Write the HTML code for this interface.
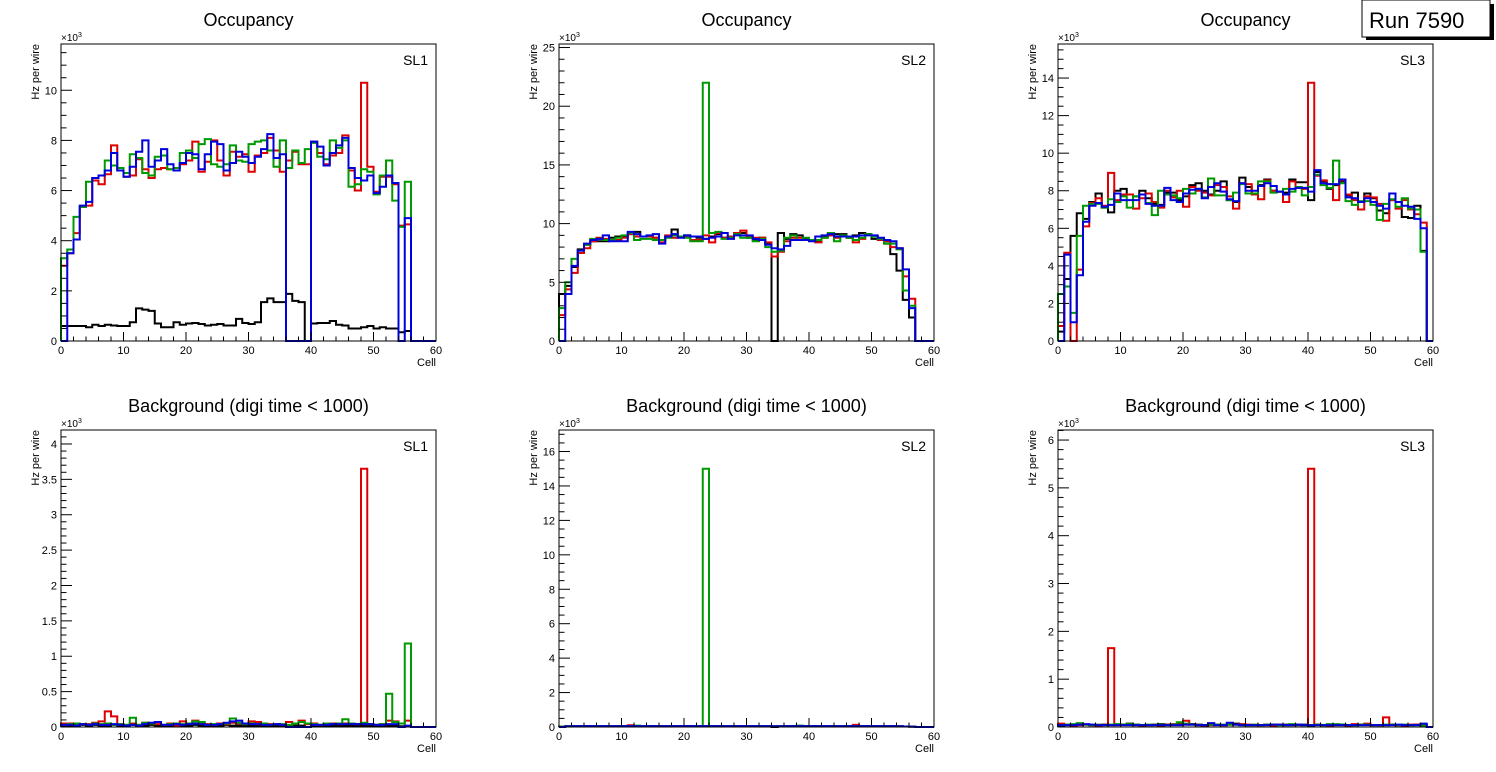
<!DOCTYPE html>
<html><head><meta charset="utf-8"><style>
html,body{margin:0;padding:0;background:#fff;}
svg{display:block;font-family:"Liberation Sans",sans-serif;}
</style></head><body>
<svg id="c" width="1496" height="772">
<g>
<rect x="1366" y="4" width="128" height="36" fill="#000"/>
<rect x="1362" y="0" width="128" height="37" fill="#fff" stroke="#000" stroke-width="1"/>
<text x="1369" y="28" font-size="22">Run 7590</text>
</g>
</svg>
<script>
const bins = 60;
const occSL1Black=[0.6,0.6,0.6,0.6,0.55,0.65,0.6,0.65,0.62,0.6,0.6,0.75,1.3,1.25,1.2,0.7,0.55,0.55,0.75,0.65,0.7,0.72,0.68,0.62,0.65,0.68,0.62,0.62,0.88,0.72,0.68,0.75,1.55,1.7,1.55,1.55,1.88,1.6,1.55,0,0.7,0.72,0.72,0.8,0.65,0.62,0.5,0.5,0.55,0.6,0.5,0.55,0.5,0.5,0.35,0.4];
const occSL1Red=[3.0,3.5,4.3,5.35,5.4,6.4,6.25,6.65,7.8,6.8,6.55,6.6,7.25,6.85,6.5,6.85,6.9,6.85,6.9,7.05,7.2,7.95,6.75,7.15,8.0,7.2,6.6,7.55,7.35,7.45,6.75,7.4,7.5,8.1,7.6,6.75,7.2,7.55,7.05,7.05,7.95,7.5,7.05,7.4,7.5,8.2,6.8,6.0,10.3,6.95,5.95,6.55,6.55,6.25,4.6,4.65];
const occSL1Green=[3.3,3.65,4.95,5.35,6.35,6.5,6.6,7.2,7.0,6.9,6.7,7.45,7.3,6.7,6.6,7.35,7.4,6.85,6.9,7.5,7.6,7.3,7.85,8.05,7.05,6.95,7.05,7.8,7.2,7.15,7.85,7.95,8.0,7.6,6.95,8.0,6.9,7.6,7.1,7.65,7.9,7.35,7.25,8.0,7.7,8.0,6.15,6.25,6.85,6.75,5.85,6.6,7.2,5.6,4.55,6.35];
const occSL1Blue=[0,3.5,4.05,5.4,5.55,6.5,6.6,6.8,7.5,6.8,6.55,6.95,7.55,8.0,6.95,7.2,7.65,7.05,6.8,7.1,7.5,7.45,6.85,7.45,7.95,7.85,6.8,7.1,7.55,7.35,7.1,7.35,7.65,8.25,7.3,7.45,0,0,0,0,7.95,7.75,7.0,7.5,7.8,8.1,6.9,6.5,6.4,6.6,5.9,6.15,6.6,6.3,0,4.9];

const occSL2Black=[4.0,4.7,6.3,7.8,8.2,8.5,8.5,8.5,8.8,8.9,8.9,9.1,9.3,8.9,8.9,8.8,8.6,8.9,9.5,8.9,9.0,8.9,8.8,8.7,8.9,9.1,8.8,8.8,9.1,9.2,8.8,8.6,8.8,8.3,0,9.2,8.7,9.1,9.0,8.7,8.6,8.5,8.9,9.0,9.1,9.1,8.8,9.0,9.2,9.1,8.7,8.7,8.3,7.4,6.0,3.5,2.0];
const occSL2Red=[2.2,4.4,5.8,7.5,7.9,8.5,8.8,8.7,8.6,8.6,8.8,9.1,8.9,8.9,8.9,8.8,8.4,9.0,8.8,8.9,8.9,8.6,8.6,9.0,8.4,9.2,8.8,8.9,9.2,9.4,8.9,8.8,8.8,8.4,7.2,7.6,8.5,8.8,8.8,8.6,8.6,8.4,8.8,9.0,8.8,8.9,8.8,8.4,8.7,9.1,8.9,8.6,8.5,8.0,7.9,5.5,3.6];
const occSL2Green=[2.8,5.0,7.0,7.7,8.2,8.7,8.7,8.6,8.6,8.8,9.0,9.2,8.6,8.7,8.7,8.6,8.6,8.8,9.0,8.9,8.8,8.5,8.5,22.0,9.2,9.3,8.7,8.8,9.1,8.8,8.8,8.5,8.7,8.0,7.6,7.7,8.8,9.0,8.6,8.8,8.6,8.6,8.8,9.2,8.5,9.0,8.8,8.6,8.8,9.1,8.9,8.7,8.3,8.3,7.8,4.3,3.0];
const occSL2Blue=[0,4.0,6.4,7.7,8.3,8.6,8.7,9.0,8.5,8.5,8.5,9.3,9.1,8.9,9.0,9.1,8.3,8.9,9.1,8.8,9.0,8.9,8.9,8.7,8.8,8.9,9.2,8.7,9.0,9.0,9.0,8.7,8.6,8.2,7.9,7.8,8.1,8.6,8.6,8.6,8.5,8.9,9.0,9.1,8.9,8.9,8.9,8.9,9.0,9.0,9.0,8.8,8.6,8.5,7.9,6.1,2.8];

const occSL3Black=[0.5,3.3,5.6,6.8,6.5,7.4,7.85,7.1,6.85,8.0,8.1,7.8,7.7,8.0,7.6,7.3,7.25,7.9,7.9,7.5,7.7,8.3,8.4,8.0,7.8,8.0,8.5,7.5,7.4,8.7,8.2,7.85,8.3,8.6,8.0,7.95,7.9,8.6,8.45,8.45,7.5,9.0,8.5,8.1,8.3,8.5,7.75,7.9,7.4,7.85,7.6,6.95,6.8,7.5,7.4,6.6,6.55,7.2,4.8];
const occSL3Red=[0.8,4.7,0,3.8,6.1,7.35,7.6,7.2,8.95,7.5,7.8,7.8,7.05,7.6,7.85,7.4,7.1,8.0,7.65,8.0,7.15,8.2,8.0,7.9,7.75,8.3,8.2,7.7,7.05,8.4,8.35,7.8,7.55,8.55,8.0,7.95,7.4,8.5,8.15,8.1,13.75,8.8,8.55,8.35,7.5,8.55,7.8,7.5,7.0,7.7,7.65,7.3,6.4,7.5,7.05,7.5,7.0,6.75,6.3];
const occSL3Green=[2.5,2.9,1.5,5.6,7.2,7.3,7.3,7.1,7.55,7.4,7.7,7.1,7.7,7.8,7.35,6.7,8.0,7.8,7.75,7.6,8.1,7.85,8.1,7.65,8.65,7.75,7.75,7.5,7.9,8.35,7.85,7.85,8.5,8.5,7.9,7.95,8.1,7.95,8.2,7.75,8.2,8.85,8.3,8.15,9.6,8.4,7.45,7.25,7.45,7.45,7.25,6.45,7.3,7.55,7.15,7.6,7.05,7.0,4.75];
const occSL3Blue=[0,4.6,1.0,3.5,6.35,7.2,7.35,7.15,7.25,7.85,7.5,7.5,7.5,7.8,7.3,7.2,7.2,8.15,7.5,7.4,7.85,8.05,8.1,7.6,8.2,8.4,7.95,7.55,7.45,8.4,8.0,8.0,8.25,8.4,8.25,7.95,7.8,8.1,8.15,8.15,7.95,9.1,8.4,8.35,8.35,8.6,7.65,7.6,7.4,7.6,7.4,7.2,7.05,7.85,7.4,7.2,7.15,6.5,6.0];

const bkgSL1Black=[0.02,0.02,0.02,0.03,0.02,0.03,0.02,0.02,0.03,0.02,0.02,0.03,0.02,0.02,0.03,0.02,0.02,0.02,0.03,0.02,0.02,0.03,0.02,0.02,0.02,0.02,0.03,0.02,0.02,0.02,0.02,0.02,0.02,0.02,0.02,0.02,0.02,0.02,0.02,0,0.02,0.02,0.02,0.02,0.02,0.02,0.02,0.02,0.02,0.02,0.02,0.02,0.02,0.02,0.01,0.01];
const bkgSL1Red=[0.05,0.05,0.03,0.04,0.04,0.06,0.08,0.22,0.15,0.04,0.03,0.05,0.03,0.06,0.05,0.04,0.03,0.05,0.02,0.08,0.05,0.09,0.05,0.04,0.03,0.05,0.04,0.06,0.05,0.04,0.08,0.07,0.05,0.04,0.04,0.03,0.07,0.05,0.09,0.04,0.05,0.03,0.04,0.05,0.04,0.05,0.05,0.04,3.65,0.04,0.03,0.04,0.09,0.08,0.05,0.09];
const bkgSL1Green=[0.03,0.04,0.05,0.04,0.03,0.05,0.04,0.05,0.03,0.04,0.03,0.13,0.03,0.06,0.05,0.07,0.03,0.04,0.05,0.04,0.05,0.08,0.07,0.03,0.04,0.04,0.05,0.12,0.06,0.04,0.05,0.04,0.05,0.03,0.04,0.04,0.03,0.05,0.07,0.05,0.04,0.03,0.05,0.04,0.05,0.11,0.05,0.04,0.06,0.04,0.03,0.04,0.47,0.07,0.05,1.18];
const bkgSL1Blue=[0.03,0.03,0.02,0.04,0.03,0.04,0.03,0.03,0.04,0.03,0.02,0.03,0.02,0.04,0.06,0.07,0.03,0.03,0.04,0.03,0.04,0.05,0.04,0.03,0.03,0.04,0.06,0.08,0.09,0.05,0.04,0.04,0.03,0.03,0.04,0.03,0,0,0,0,0.03,0.03,0.03,0.04,0.04,0.04,0.04,0.04,0.04,0.04,0.03,0.03,0.04,0.04,0,0.02];

const bkgSL2Black=[0.02,0.03,0.04,0.05,0.05,0.05,0.04,0.05,0.05,0.04,0.05,0.05,0.06,0.05,0.04,0.05,0.05,0.04,0.06,0.05,0.04,0.05,0.05,0.05,0.05,0.05,0.04,0.05,0.05,0.05,0.04,0.05,0.05,0.04,0,0.05,0.05,0.05,0.05,0.04,0.05,0.05,0.05,0.05,0.05,0.05,0.05,0.05,0.05,0.05,0.05,0.04,0.05,0.05,0.04,0.03,0.02];
const bkgSL2Red=[0.02,0.04,0.05,0.06,0.05,0.05,0.06,0.05,0.05,0.06,0.05,0.1,0.05,0.06,0.05,0.05,0.06,0.05,0.06,0.05,0.05,0.06,0.06,0.05,0.05,0.05,0.06,0.05,0.06,0.06,0.05,0.05,0.05,0.05,0.04,0.05,0.05,0.06,0.05,0.05,0.06,0.05,0.05,0.06,0.05,0.05,0.05,0.12,0.05,0.06,0.05,0.05,0.05,0.05,0.04,0.03,0.02];
const bkgSL2Green=[0.02,0.04,0.05,0.05,0.05,0.05,0.05,0.06,0.05,0.05,0.06,0.05,0.08,0.05,0.05,0.05,0.05,0.05,0.05,0.06,0.05,0.05,0.05,15.0,0.05,0.05,0.05,0.06,0.05,0.05,0.05,0.05,0.06,0.05,0.04,0.05,0.05,0.05,0.08,0.05,0.05,0.05,0.05,0.05,0.06,0.05,0.05,0.05,0.05,0.05,0.05,0.05,0.05,0.05,0.04,0.03,0.02];
const bkgSL2Blue=[0,0.04,0.05,0.05,0.06,0.05,0.05,0.05,0.05,0.05,0.05,0.05,0.05,0.05,0.06,0.05,0.05,0.05,0.05,0.05,0.06,0.05,0.05,0.05,0.05,0.05,0.05,0.05,0.05,0.05,0.05,0.05,0.05,0.05,0.04,0.04,0.05,0.05,0.05,0.05,0.05,0.05,0.05,0.05,0.05,0.05,0.05,0.05,0.05,0.05,0.05,0.05,0.05,0.05,0.04,0.03,0.02];

const bkgSL3Black=[0.03,0.04,0.04,0.06,0.05,0.04,0.04,0.05,0.04,0.05,0.05,0.07,0.05,0.04,0.04,0.05,0.06,0.05,0.05,0.06,0.05,0.06,0.05,0.04,0.05,0.05,0.04,0.05,0.07,0.05,0.04,0.04,0.04,0.05,0.05,0.04,0.05,0.05,0.04,0.05,0.03,0.05,0.04,0.04,0.05,0.05,0.04,0.04,0.05,0.05,0.04,0.04,0.04,0.05,0.04,0.04,0.04,0.05,0.03];
const bkgSL3Red=[0.07,0.05,0.03,0.04,0.05,0.04,0.03,0.05,1.65,0.04,0.05,0.05,0.04,0.03,0.04,0.04,0.03,0.05,0.06,0.05,0.13,0.05,0.04,0.03,0.04,0.05,0.04,0.05,0.05,0.06,0.05,0.04,0.04,0.04,0.03,0.05,0.04,0.04,0.05,0.04,5.4,0.05,0.04,0.03,0.04,0.04,0.03,0.06,0.05,0.07,0.04,0.04,0.2,0.05,0.04,0.03,0.05,0.05,0.05];
const bkgSL3Green=[0.04,0.05,0.06,0.08,0.05,0.04,0.05,0.04,0.05,0.06,0.05,0.06,0.05,0.04,0.05,0.04,0.05,0.04,0.05,0.1,0.07,0.05,0.04,0.04,0.05,0.05,0.05,0.05,0.05,0.04,0.04,0.05,0.04,0.05,0.05,0.04,0.04,0.06,0.05,0.04,0.04,0.05,0.04,0.06,0.06,0.05,0.04,0.04,0.05,0.05,0.04,0.04,0.05,0.05,0.04,0.05,0.04,0.04,0.03];
const bkgSL3Blue=[0.04,0.04,0.04,0.05,0.06,0.05,0.04,0.04,0.04,0.04,0.04,0.04,0.04,0.04,0.04,0.04,0.04,0.04,0.04,0.04,0.05,0.05,0.04,0.04,0.08,0.04,0.04,0.09,0.05,0.04,0.04,0.04,0.04,0.04,0.05,0.05,0.04,0.04,0.05,0.04,0.04,0.04,0.04,0.04,0.04,0.04,0.04,0.04,0.04,0.04,0.04,0.04,0.04,0.04,0.05,0.04,0.04,0.04,0.07];

const xTicks=[0,10,20,30,40,50,60];
const panels=[
 {name:'occupancy-sl1',title:'Occupancy',sl:'SL1',x:61,y:44,series:[occSL1Black,occSL1Red,occSL1Green,occSL1Blue],major:2,minor:0.5,dec:0},
 {name:'occupancy-sl2',title:'Occupancy',sl:'SL2',x:559,y:44,series:[occSL2Black,occSL2Red,occSL2Green,occSL2Blue],major:5,minor:1,dec:0},
 {name:'occupancy-sl3',title:'Occupancy',sl:'SL3',x:1058,y:44,series:[occSL3Black,occSL3Red,occSL3Green,occSL3Blue],major:2,minor:0.5,dec:0},
 {name:'background-sl1',title:'Background (digi time < 1000)',sl:'SL1',x:61,y:430,series:[bkgSL1Black,bkgSL1Red,bkgSL1Green,bkgSL1Blue],major:0.5,minor:0.1,dec:1},
 {name:'background-sl2',title:'Background (digi time < 1000)',sl:'SL2',x:559,y:430,series:[bkgSL2Black,bkgSL2Red,bkgSL2Green,bkgSL2Blue],major:2,minor:0.5,dec:0},
 {name:'background-sl3',title:'Background (digi time < 1000)',sl:'SL3',x:1058,y:430,series:[bkgSL3Black,bkgSL3Red,bkgSL3Green,bkgSL3Blue],major:1,minor:0.2,dec:0}
];
const colors=['#000000','#dd0000','#009900','#0000dd'];
const seriesNames=['black','red','green','blue'];
const W=375,H=297;
const svg=document.getElementById('c');
const NS='http://www.w3.org/2000/svg';
function mk(tag,attrs,parent){const e=document.createElementNS(NS,tag);for(const k in attrs)e.setAttribute(k,attrs[k]);(parent||svg).appendChild(e);return e;}
function fmt(v,dec){let s=v.toFixed(dec);if(dec>0&&s.endsWith('.0'))s=s.slice(0,-2);return s;}
panels.forEach(p=>{
  const g=mk('g',{});
  
  
  let mx=0;p.series.forEach(s=>s.forEach(v=>{if(v>mx)mx=v;}));
  const ymax=mx*1.15;
  const sx=v=>p.x+v/bins*W;
  const sy=v=>p.y+H-v/ymax*H;
  const t=mk('text',{x:p.x+W/2,y:p.y-18,'font-size':18,'text-anchor':'middle'},g);t.textContent=p.title;
  
  p.series.forEach((s,i)=>{
    let d='M'+sx(0)+','+sy(0);
    for(let b=0;b<bins;b++){const v=b<s.length?s[b]:0;d+=' L'+sx(b)+','+sy(v)+' L'+sx(b+1)+','+sy(v);}
    d+=' L'+sx(bins)+','+sy(0);
    const path=mk('path',{d:d,fill:'none',stroke:colors[i],'stroke-width':2,'stroke-linejoin':'miter'},g);
    
    
  });
  const fr=mk('rect',{x:p.x,y:p.y,width:W,height:H,fill:'none',stroke:'#000','stroke-width':1},g);
  
  for(let v=0;v<=60;v+=2){const L=(v%10===0)?9:4.5;mk('line',{x1:sx(v),x2:sx(v),y1:p.y+H,y2:p.y+H-L,stroke:'#000','stroke-width':1},g);}
  xTicks.forEach(v=>{const tx=mk('text',{x:sx(v),y:p.y+H+13,'font-size':11,'text-anchor':'middle'},g);tx.textContent=v;
    });
  const xl=mk('text',{x:p.x+W,y:p.y+H+25,'font-size':11,'text-anchor':'end'},g);xl.textContent='Cell';
  
  const nMin=Math.floor(ymax/p.minor+1e-6);
  for(let k=0;k<=nMin;k++){const v=k*p.minor;const isMaj=Math.abs(v/p.major-Math.round(v/p.major))<1e-6;
    mk('line',{x1:p.x,x2:p.x+(isMaj?11:5.5),y1:sy(v),y2:sy(v),stroke:'#000','stroke-width':1},g);
    if(isMaj){const ty=mk('text',{x:p.x-4,y:sy(v)+4,'font-size':11,'text-anchor':'end'},g);ty.textContent=fmt(v,p.dec);
      }}
  const ex=mk('text',{x:p.x,y:p.y-3,'font-size':10},g);ex.innerHTML='×10<tspan dy="-4" font-size="7">3</tspan>';
  
  const yl=mk('text',{x:0,y:0,'font-size':11,'text-anchor':'end',transform:'translate('+(p.x-22)+','+(p.y)+') rotate(-90)'},g);yl.textContent='Hz per wire';
  
  const sl=mk('text',{x:p.x+W-8,y:p.y+21,'font-size':14,'text-anchor':'end'},g);sl.textContent=p.sl;
  
});
</script>
</body></html>
